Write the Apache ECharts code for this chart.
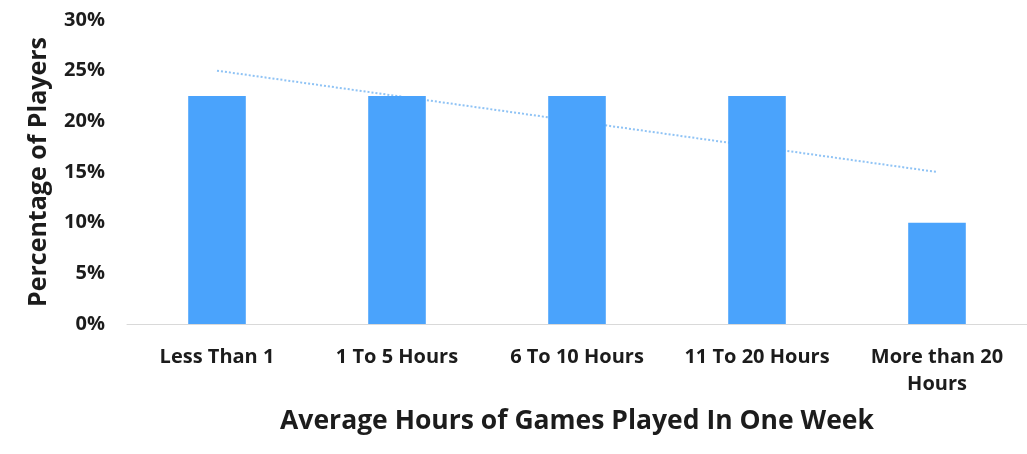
<!DOCTYPE html>
<html>
<head>
<meta charset="utf-8">
<script src="https://cdn.jsdelivr.net/npm/echarts@6/dist/echarts.min.js"></script>
<style>
  html, body { margin: 0; padding: 0; background: #fff; }
  #chart { width: 1027px; height: 454px; }
</style>
</head>
<body>
<div id="chart"></div>
<script>
let categories = ["Less Than 1", "1 To 5 Hours", "6 To 10 Hours", "11 To 20 Hours", "More than 20\nHours"];
let players = [22.5, 22.5, 22.5, 22.5, 10];
// linear trendline as drawn in the picture
let trend = [25, 22.5, 20, 17.5, 15];
let yTicks = [0, 5, 10, 15, 20, 25, 30];

let font = "'Open Sans', sans-serif";
let textColor = "#1c1c1c";

let chart = echarts.init(document.getElementById("chart"), null, { renderer: "canvas" });
chart.setOption({
  backgroundColor: "#ffffff",
  animation: false,
  grid: { left: 127, right: 0, top: 20, bottom: 130 },
  xAxis: {
    type: "category",
    data: categories,
    name: "Average Hours of Games Played In One Week",
    nameLocation: "middle",
    nameGap: 84,
    nameTextStyle: { fontFamily: font, fontWeight: "bold", fontSize: 26.5, color: textColor },
    axisLine: { lineStyle: { color: "#d9d9d9", width: 1 } },
    axisTick: { show: false },
    axisLabel: { interval: 0, hideOverlap: false, fontFamily: font, fontWeight: "bold", fontSize: 20, color: textColor, margin: 20, lineHeight: 27 }
  },
  yAxis: {
    type: "value",
    min: yTicks[0],
    max: yTicks[yTicks.length - 1],
    interval: 5,
    name: "Percentage of Players",
    nameLocation: "middle",
    nameGap: 76,
    nameTextStyle: { fontFamily: font, fontWeight: "bold", fontSize: 25, color: textColor },
    axisLine: { show: false },
    axisTick: { show: false },
    splitLine: { show: false },
    axisLabel: { fontFamily: font, fontWeight: "bold", fontSize: 20, color: textColor, margin: 22, formatter: "{value}%" }
  },
  series: [
    {
      type: "line",
      data: trend,
      z: 1,
      symbol: "none",
      lineStyle: { color: "#8fc3f5", width: 2, type: [2, 2] }
    },
    {
      type: "bar",
      data: players,
      z: 2,
      barWidth: "32%",
      itemStyle: { color: "#4aa3fc" }
    }
  ]
});
</script>
</body>
</html>
